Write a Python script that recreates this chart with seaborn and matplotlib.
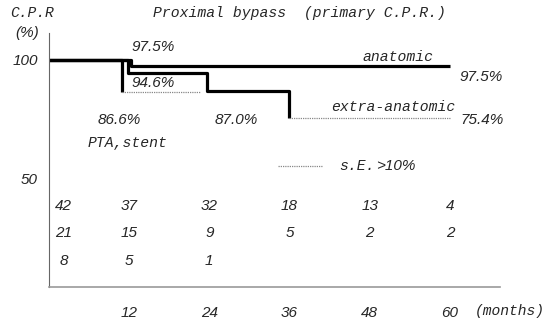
import pandas as pd
import matplotlib
matplotlib.use("Agg")
import matplotlib.pyplot as plt
import seaborn as sns

# Step curves (months, cumulative patency %)
anatomic_t = [0, 12.3, 60]
anatomic_v = [100, 97.5, 97.5]

extra_t = [0, 11.8, 23.6, 35.9]
extra_v = [100, 94.6, 87.0, 75.4]
extra_se_t = [35.9, 60]          # s.E. > 10% part
extra_se_v = [75.4, 75.4]

pta_t = [0, 11.0]
pta_v = [100, 86.6]
pta_se_t = [11.0, 22.6]
pta_se_v = [86.6, 86.6]

# Number at risk
risk_months = [2.2, 12, 24, 36, 48, 60]
risk_anatomic = [42, 37, 32, 18, 13, 4]
risk_extra = [21, 15, 9, 5, 2, 2]
risk_pta = [8, 5, 1]

x_ticks = [12, 24, 36, 48, 60]
y_ticks = [50, 100]

MONO = "Liberation Mono"
SANS = "Liberation Sans"

sns.set_style("white")
plt.rcParams["font.family"] = [SANS, "DejaVu Sans"]

fig = plt.figure(figsize=(5.55, 3.22), dpi=100)
ax = fig.add_axes([49 / 555, 35 / 322, 451 / 555, 254 / 322])


def steps(t, v, **kw):
    df = pd.DataFrame({"month": t, "cpr": v})
    sns.lineplot(data=df, x="month", y="cpr", ax=ax, estimator=None,
                 sort=False, drawstyle="steps-post", **kw)


solid = dict(color="black", linewidth=2.3, solid_capstyle="butt")
dotted = dict(color="#888888", linewidth=0.9, linestyle=(0, (1, 0.8)))

steps(pta_t, pta_v, **solid)
steps(extra_t, extra_v, **solid)
steps(anatomic_t, anatomic_v, **solid)
steps(extra_se_t, extra_se_v, **dotted)
steps(pta_se_t, pta_se_v, **dotted)

ax.set_xlim(0, 67.5)
ax.set_ylim(4.6, 111.3)
ax.set_xlabel("")
ax.set_ylabel("")

NUM_FS = 11
MONO_FS = 10.6

ax.set_xticks(x_ticks)
ax.set_xticklabels([str(v) for v in x_ticks], fontstyle="italic",
                   fontsize=NUM_FS, fontfamily=SANS)
ax.set_yticks(y_ticks)
ax.set_yticklabels([str(v) for v in y_ticks], fontstyle="italic",
                   fontsize=NUM_FS, fontfamily=SANS)
ax.tick_params(axis="x", length=0, pad=14)
ax.tick_params(axis="y", length=0, pad=8)

for s in ["top", "right"]:
    ax.spines[s].set_visible(False)
ax.spines["left"].set_color("#666666")
ax.spines["left"].set_linewidth(0.8)
ax.spines["bottom"].set_color("#999999")
ax.spines["bottom"].set_linewidth(1.2)

num = dict(fontstyle="italic", fontsize=NUM_FS, fontfamily=SANS, va="center")
mono = dict(fontstyle="italic", fontsize=MONO_FS, fontfamily=MONO, va="center")

# value labels
ax.text(12.4, 105.4, "97.5%", ha="left", **num)
ax.text(12.4, 90.2, "94.6%", ha="left", **num)
ax.text(10.5, 74.8, "86.6%", ha="center", **num)
ax.text(28.0, 74.8, "87.0%", ha="center", **num)
ax.text(61.4, 92.8, "97.5%", ha="left", **num)
ax.text(61.6, 74.8, "75.4%", ha="left", **num)

# curve names
ax.text(52.2, 101.2, "anatomic", ha="center", **mono)
ax.text(51.6, 80.2, "extra-anatomic", ha="center", **mono)
ax.text(11.8, 65.1, "PTA,stent", ha="center", **mono)

# s.E. legend
ax.plot([34.3, 40.9], [55.4, 55.4], **dotted)
ax.text(43.5, 55.4, "s.E.", ha="left", **mono)
ax.text(49.0, 55.4, ">10%", ha="left", **num)

# number at risk rows
for row, y in [(risk_anatomic, 38.6), (risk_extra, 27.3), (risk_pta, 15.5)]:
    for m, n in zip(risk_months, row):
        ax.text(m, y, str(n), ha="center", **num)

ax.text(63.7, -5.6, "(months)", ha="left", clip_on=False,
        fontstyle="italic", fontsize=10.5, fontfamily=MONO, va="center")

fig.text(10 / 555, 1 - 13 / 322, "C.P.R", ha="left", va="center",
         fontstyle="italic", fontsize=10.5, fontfamily=MONO)
fig.text(15 / 555, 1 - 33 / 322, "(%)", ha="left", va="center",
         fontstyle="italic", fontsize=NUM_FS, fontfamily=SANS)
fig.text(153 / 555, 1 - 13 / 322, "Proximal bypass  (primary C.P.R.)",
         ha="left", va="center", fontstyle="italic", fontsize=MONO_FS,
         fontfamily=MONO)

fig.savefig("out.png", dpi=100)
